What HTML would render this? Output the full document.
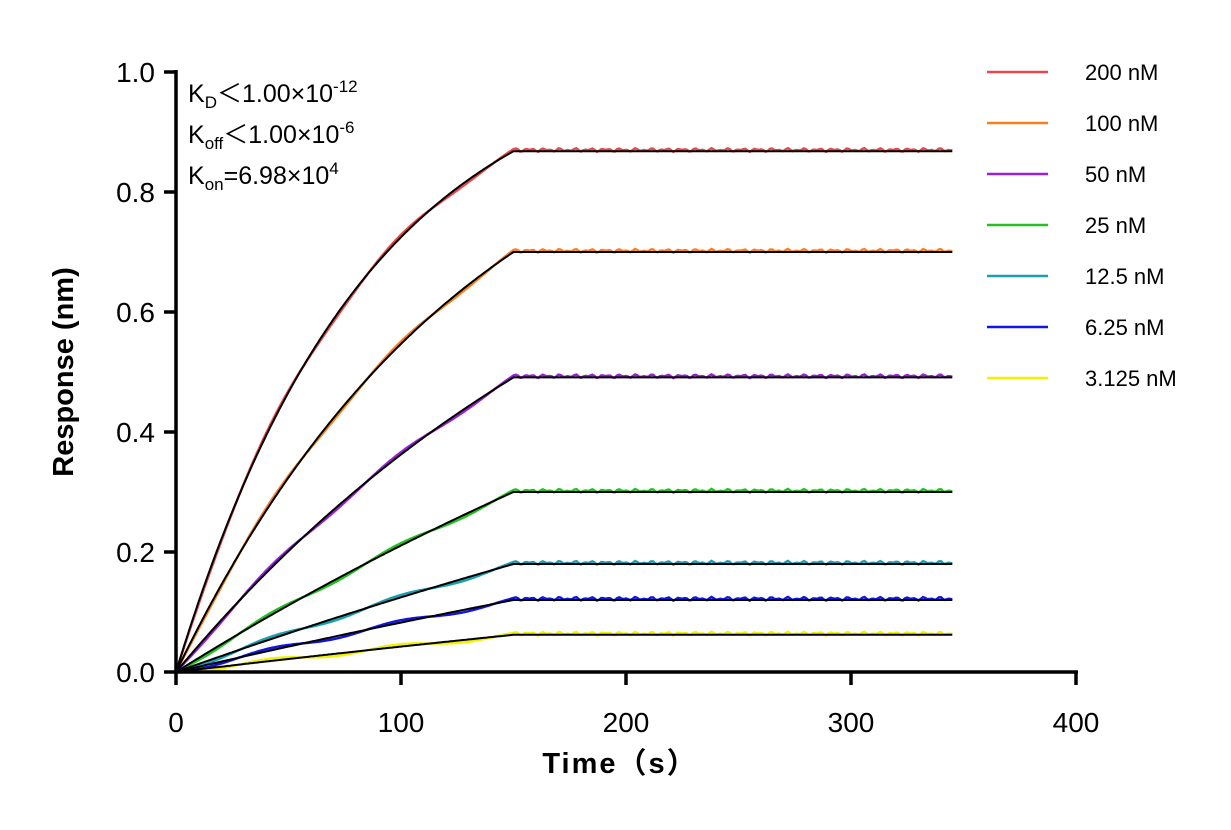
<!DOCTYPE html>
<html><head><meta charset="utf-8"><style>
body{margin:0;background:#fff}
svg text{font-family:"Liberation Sans","Noto Sans CJK SC",sans-serif}
</style></head><body>
<svg width="1231" height="825" viewBox="0 0 1231 825">
<g id="plot"></g>
<g id="axes"></g>
<g id="legend"></g>
<g font-size="25">
<text x="188" y="102">K<tspan font-size="17" dy="6">D</tspan><tspan dy="-6">＜1.00×10</tspan><tspan font-size="17" dy="-10">-12</tspan></text>
<text x="188" y="143">K<tspan font-size="17" dy="6">off</tspan><tspan dy="-6">＜1.00×10</tspan><tspan font-size="17" dy="-10">-6</tspan></text>
<text x="188" y="184">K<tspan font-size="17" dy="6">on</tspan><tspan dy="-6">=6.98×10</tspan><tspan font-size="17" dy="-10">4</tspan></text>
</g>
<text x="620" y="773" font-size="29" font-weight="bold" text-anchor="middle" letter-spacing="2">Time（s）</text>
<text transform="translate(73,372) rotate(-90)" font-size="29" font-weight="bold" text-anchor="middle">Response (nm)</text>
</svg>
<script>
const seriesLabels=["200 nM","100 nM","50 nM","25 nM","12.5 nM","6.25 nM","3.125 nM"];
const seriesColors=["#e8484a","#f5821f","#9b1fd6","#22c022","#1a9fb0","#1414e0","#f2f200"];
const plateauValues=[0.868,0.700,0.491,0.300,0.180,0.120,0.062];
const kobsValues=[0.0118,0.0075,0.0045,0.0022,0.0015,0.0012,0.001];
const assocEnd=150, runEnd=345;
const xTicks=[0,100,200,300,400];
const yTicks=[0,0.2,0.4,0.6,0.8,1.0];
const yTickLabels=["0.0","0.2","0.4","0.6","0.8","1.0"];
const NS="http://www.w3.org/2000/svg";
const X=t=>176+t*2.25, Y=v=>672-v*600;
function mk(tag,attrs,parent){const e=document.createElementNS(NS,tag);for(const k in attrs)e.setAttribute(k,attrs[k]);parent.appendChild(e);return e;}
const plot=document.getElementById('plot'),axes=document.getElementById('axes'),legend=document.getElementById('legend');
seriesLabels.forEach((lab,i)=>{
  const P=plateauValues[i],k=kobsValues[i];
  const Rmax=P/(1-Math.exp(-k*assocEnd));
  const f=t=>t<=assocEnd?Rmax*(1-Math.exp(-k*t)):P;
  let d="",dc="";
  for(let t=0;t<=runEnd;t+=1){
    d+=(t?"L":"M")+X(t).toFixed(1)+","+Y(f(t)).toFixed(1);
    const off=(t<=assocEnd? -0.004*Math.sin(t/9): 0.003*Math.sin(t*1.3)*Math.cos(t*0.37)+0.002);
    dc+=(t?"L":"M")+X(t).toFixed(1)+","+Y(Math.max(0,f(t)+off)).toFixed(1);
  }
  const c=mk('path',{d:dc,fill:"none",stroke:seriesColors[i],"stroke-width":2.5},plot);
  
  
  const b=mk('path',{d:d,fill:"none",stroke:"#000","stroke-width":2},plot);
  
  
  const ly=72+i*51;
  const ll=mk('line',{x1:987,x2:1048,y1:ly,y2:ly,stroke:seriesColors[i],"stroke-width":2.5},legend);
  
  
  const lt=mk('text',{x:1085,y:ly+8,"font-size":22},legend);lt.textContent=lab;
  
  
});
mk('line',{x1:176,x2:176,y1:70,y2:674,stroke:"#000","stroke-width":3.5},axes);
mk('line',{x1:174,x2:1078,y1:672,y2:672,stroke:"#000","stroke-width":3.5},axes);
yTicks.forEach((v,i)=>{
  mk('line',{x1:164,x2:176,y1:Y(v),y2:Y(v),stroke:"#000","stroke-width":3.5},axes);
  const t=mk('text',{x:155,y:Y(v)+10,"font-size":28,"text-anchor":"end"},axes);t.textContent=yTickLabels[i];
  
  
});
xTicks.forEach(v=>{
  mk('line',{x1:X(v),x2:X(v),y1:672,y2:685,stroke:"#000","stroke-width":3.5},axes);
  const t=mk('text',{x:X(v),y:732,"font-size":28,"text-anchor":"middle"},axes);t.textContent=v;
  
  
});
</script>
</body></html>
